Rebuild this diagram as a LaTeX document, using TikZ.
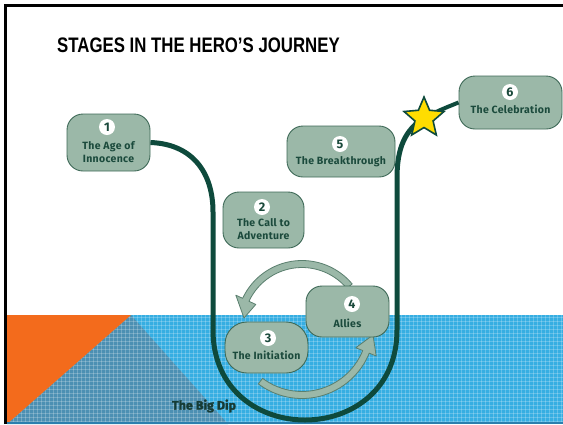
\documentclass[tikz,border=0pt]{standalone}
\usepackage{fontspec}
\setmainfont{Fira Sans}
\newfontfamily\titlefont[FakeStretch=0.8]{Liberation Sans}
\newfontfamily\lblfont[LetterSpace=3]{Fira Sans}
\newfontfamily\dipfont[FakeBold=1.5]{Fira Sans}
\usetikzlibrary{shapes.geometric,calc}

\definecolor{sage}{HTML}{9BB8A8}
\definecolor{sageedge}{HTML}{3F6A58}
\definecolor{pathgreen}{HTML}{0E4A3C}
\definecolor{labelgreen}{HTML}{1B4A3C}
\definecolor{water}{HTML}{36AEE2}
\definecolor{dipshade}{HTML}{4C90B3}
\definecolor{sunset}{HTML}{F36B1C}
\definecolor{staryellow}{HTML}{FFDD00}
\definecolor{arrowedge}{HTML}{5A7F6E}
\definecolor{dipink}{HTML}{163B35}
\definecolor{seabed}{HTML}{2A7FAE}

\tikzset{
  stagebox/.style={draw=sageedge, line width=0.9pt, fill=sage, rounded corners=#1, inner sep=0pt},
  stagebox/.default=16pt,
  numdot/.style={circle, fill=white, inner sep=0pt, minimum size=16pt,
    font=\lblfont\bfseries\fontsize{12.5}{12.5}\selectfont, text=labelgreen},
  stagetext/.style={font=\lblfont\bfseries\fontsize{10.5}{13.5}\selectfont,
    text=labelgreen, align=center, inner sep=0pt},
  journey/.style={draw=pathgreen, line width=5pt},
  cyclearrow/.style={draw=arrowedge, fill=sage, line width=0.8pt, line join=round},
  gridline/.style={white, opacity=0.22, line width=1pt},
}

\begin{document}
\begin{tikzpicture}[x=1pt, y=-1pt]
\useasboundingbox (0,0) rectangle (563,424);
\fill[white] (0,0) rectangle (563,424);

% sea with its grid texture
\fill[water] (7,315) rectangle (563,424);
\fill[dipshade] (131,315) -- (7,424) -- (228,424) -- cycle;
\begin{scope}
  \clip (7,315) rectangle (563,424);
  \foreach \gx in {9,13,...,561} \draw[gridline] (\gx,315) -- (\gx,424);
  \foreach \gy in {317,321,...,421} \draw[gridline] (7,\gy) -- (563,\gy);
\end{scope}
\fill[sunset] (7,315) -- (131,315) -- (7,424) -- cycle;
\draw[seabed, line width=1.5pt] (7,423.2) -- (563,423.2);

% frame
\draw[black, line width=2.6pt] (5.5,424) -- (5.5,5.5) -- (563,5.5);

% title
\node[anchor=base west, inner sep=0pt,
  font=\titlefont\bfseries\fontsize{21}{21}\selectfont] (title) at (57,52)
  {STAGES IN THE HERO’S JOURNEY};

% cycle arrows between the initiation and the allies
\draw[cyclearrow]
  plot[domain=-40:-155, samples=30, smooth] ({302+65.5*cos(\x)},{326+65.5*sin(\x)})
  -- ({302+73*cos(-155)},{326+73*sin(-155)})
  -- (244,318)
  -- ({302+51*cos(-155)},{326+51*sin(-155)})
  -- plot[domain=-155:-40, samples=30, smooth] ({302+58.5*cos(\x)},{326+58.5*sin(\x)})
  -- cycle;
\draw[cyclearrow]
  plot[domain=127:22, samples=30, smooth] ({302+72.5*cos(\x)},{326+72.5*sin(\x)})
  -- ({302+80*cos(22)},{326+80*sin(22)})
  -- (373,335)
  -- ({302+58*cos(22)},{326+58*sin(22)})
  -- plot[domain=22:127, samples=30, smooth] ({302+65.5*cos(\x)},{326+65.5*sin(\x)})
  -- cycle;

% stages
\node[stagebox, minimum width=83pt, minimum height=57pt] (s1) at (108.5,142.5) {};
\node[stagebox, minimum width=81pt, minimum height=56pt] (s2) at (263.5,220) {};
\node[stagebox=22pt, minimum width=83pt, minimum height=51pt] (s3) at (266.5,347.5) {};
\node[stagebox, minimum width=83pt, minimum height=51pt] (s4) at (347.5,311.5) {};
\node[stagebox, minimum width=108pt, minimum height=51pt] (s5) at (341,151.5) {};
\node[stagebox, minimum width=103pt, minimum height=53pt] (s6) at (510.5,102.5) {};

\node[numdot] (s1num) at (107,127) {1};
\node[numdot] (s2num) at (262,207) {2};
\node[numdot] (s3num) at (268,338) {3};
\node[numdot] (s4num) at (352,304) {4};
\node[numdot] (s5num) at (340,144) {5};
\node[numdot] (s6num) at (510,92) {6};

\node[stagetext] (s1txt) at (108.5,152) {The Age of\\Innocence};
\node[stagetext] (s2txt) at (263.5,229) {The Call to\\Adventure};
\node[stagetext] (s3txt) at (266.5,355) {The Initiation};
\node[stagetext] (s4txt) at (347.5,323) {Allies};
\node[stagetext] (s5txt) at (341,162) {The Breakthrough};
\node[stagetext] (s6txt) at (510.5,109) {The Celebration};

% the journey line
\coordinate (dipleft) at (213,330);
\coordinate (dipright) at (397,330);
\node[star, star points=5, star point ratio=2.2, minimum size=42pt, inner sep=0pt] (star) at (424,118) {};
\draw[journey] (s1.east) .. controls (192,144) and (213,172) .. (213,212)
  -- (dipleft) .. controls (213,450) and (397,450) .. (dipright)
  -- (397,178) .. controls (397,148) and (405,130) .. (star.center);
\draw[journey, line width=4pt] (star.center) .. controls (440,110) .. (s6.west);
\node[star, star points=5, star point ratio=2.2, minimum size=42pt, inner sep=0pt,
  fill=staryellow, draw=pathgreen, line width=1.6pt] at (star.center) {};

\node[font=\dipfont\bfseries\fontsize{12.5}{12.5}\selectfont, text=dipink] (dip) at (204,406) {The Big Dip};
\end{tikzpicture}
\end{document}
